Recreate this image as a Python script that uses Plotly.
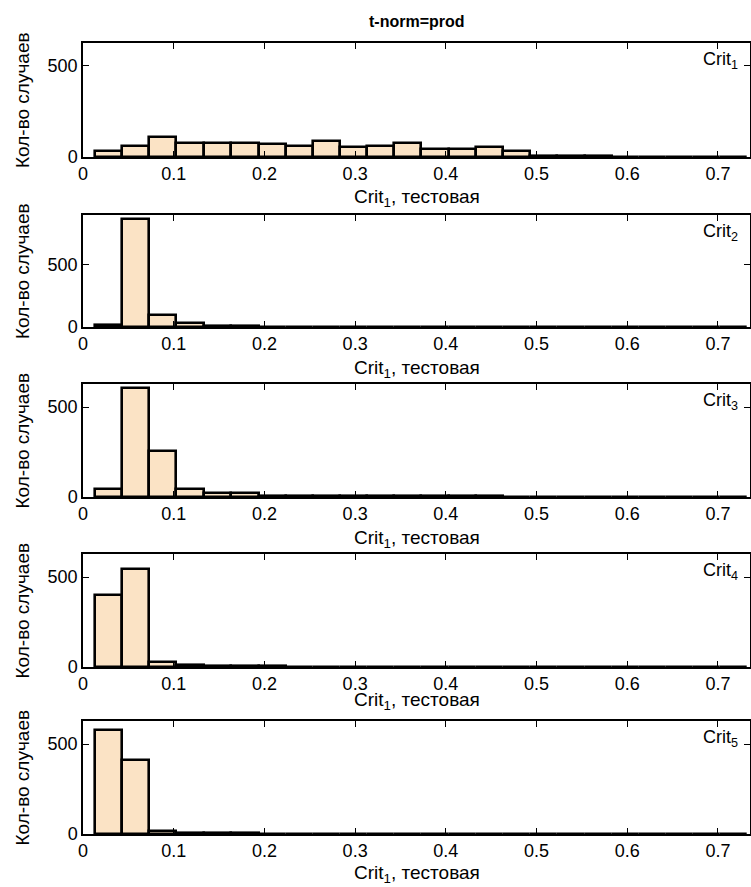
import plotly.graph_objects as go

# ---------------- data ----------------
bin_edges = [0.0132, 0.0430, 0.0730, 0.1030, 0.1335, 0.1635, 0.1935, 0.2235,
             0.2535, 0.2835, 0.3130, 0.3430, 0.3730, 0.4030, 0.4330, 0.4630,
             0.4930, 0.5230, 0.5530, 0.5830, 0.6130, 0.6425, 0.6725, 0.7025,
             0.7325]

counts_crit1 = [35, 60, 112, 79, 79, 79, 70, 60, 86, 55, 60, 79, 42, 42, 53, 35,
                6, 5, 5, 2, 2, 2, 2, 2]
counts_crit2 = [16, 871, 97, 30, 10, 8, 0, 0, 0, 0, 0, 0, 0, 0, 0, 0,
                0, 0, 0, 0, 0, 0, 0, 0]
counts_crit3 = [44, 605, 255, 44, 22, 22, 4, 4, 4, 3, 3, 3, 3, 3, 3, 0,
                0, 0, 0, 0, 0, 0, 0, 0]
counts_crit4 = [400, 544, 28, 10, 8, 8, 6, 0, 0, 0, 0, 0, 0, 0, 0, 0,
                0, 0, 0, 0, 0, 0, 0, 0]
counts_crit5 = [578, 411, 18, 5, 4, 4, 0, 0, 0, 0, 0, 0, 0, 0, 0, 0,
                0, 0, 0, 0, 0, 0, 0, 0]

series = [counts_crit1, counts_crit2, counts_crit3, counts_crit4, counts_crit5]
series_labels = ["Crit<sub>1</sub>", "Crit<sub>2</sub>", "Crit<sub>3</sub>",
                 "Crit<sub>4</sub>", "Crit<sub>5</sub>"]
y_max = [626, 903, 628, 628, 628]

x_tickvals = [0, 0.1, 0.2, 0.3, 0.4, 0.5, 0.6, 0.7]
x_ticktext = ["0", "0.1", "0.2", "0.3", "0.4", "0.5", "0.6", "0.7"]
y_tickvals = [0, 500]
y_ticktext = ["0", "500"]

title_text = "<b>t-norm=prod</b>"
x_title = "Crit<sub>1</sub>, тестовая"
y_title = "Кол-во случаев"

# ---------------- layout geometry (pixels) ----------------
W, H = 751, 887
left_px, right_px = 83, 750
panel_top = [43, 215, 384, 554, 721]
panel_bot = [157, 327, 497, 667, 834]
xtitle_y = [198, 369, 539, 701, 874]

FONT = "Liberation Sans, Arial, sans-serif"
fill = "#FBE3C5"

def px_x(p):
    return p / W

def px_y(p):
    return 1 - p / H

centers = [(bin_edges[i] + bin_edges[i + 1]) / 2 for i in range(len(bin_edges) - 1)]
widths = [bin_edges[i + 1] - bin_edges[i] for i in range(len(bin_edges) - 1)]

fig = go.Figure()
annotations = []
layout = {}

for k, counts in enumerate(series):
    n = k + 1
    xa = "x" if n == 1 else f"x{n}"
    ya = "y" if n == 1 else f"y{n}"
    fig.add_trace(go.Bar(
        x=centers, y=counts, width=widths,
        marker=dict(color=fill, line=dict(color="black", width=2.6)),
        xaxis=xa, yaxis=ya, showlegend=False, hoverinfo="x+y",
    ))
    common = dict(
        showline=True, linecolor="black", linewidth=1.5, mirror="ticks",
        ticks="inside", ticklen=6, tickwidth=1.3, tickcolor="black",
        showgrid=False, zeroline=False, automargin=False,
        tickfont=dict(family=FONT, size=18, color="black"),
    )
    layout["xaxis" if n == 1 else f"xaxis{n}"] = dict(
        common, domain=[px_x(left_px), px_x(right_px)],
        range=[0, 0.7353], tickvals=x_tickvals, ticktext=x_ticktext,
        anchor=ya,
    )
    layout["yaxis" if n == 1 else f"yaxis{n}"] = dict(
        common, domain=[px_y(panel_bot[k]), px_y(panel_top[k])],
        range=[0, y_max[k]], tickvals=y_tickvals, ticktext=y_ticktext,
        anchor=xa,
    )
    # x-axis title
    annotations.append(dict(
        text=x_title, xref="paper", yref="paper",
        x=px_x((left_px + right_px) / 2), y=px_y(xtitle_y[k]),
        xanchor="center", yanchor="middle", showarrow=False,
        font=dict(family=FONT, size=19, color="black"),
    ))
    # y-axis title
    annotations.append(dict(
        text=y_title, xref="paper", yref="paper",
        x=px_x(22), y=px_y((panel_top[k] + panel_bot[k]) / 2),
        xanchor="center", yanchor="middle", textangle=-90, showarrow=False,
        font=dict(family=FONT, size=19, color="black"),
    ))
    # series label in upper right corner
    annotations.append(dict(
        text=series_labels[k], xref="paper", yref="paper",
        x=px_x(740), y=px_y(panel_top[k] + 4),
        xanchor="right", yanchor="top", showarrow=False,
        font=dict(family=FONT, size=18, color="black"),
    ))

annotations.append(dict(
    text=title_text, xref="paper", yref="paper",
    x=px_x((left_px + right_px) / 2), y=px_y(22),
    xanchor="center", yanchor="middle", showarrow=False,
    font=dict(family=FONT, size=16, color="black"),
))

fig.update_layout(
    width=W, height=H,
    margin=dict(l=0, r=0, t=0, b=0),
    paper_bgcolor="white", plot_bgcolor="white",
    bargap=0, annotations=annotations,
    **layout,
)

fig.write_html("out.html", config={"displayModeBar": False})
